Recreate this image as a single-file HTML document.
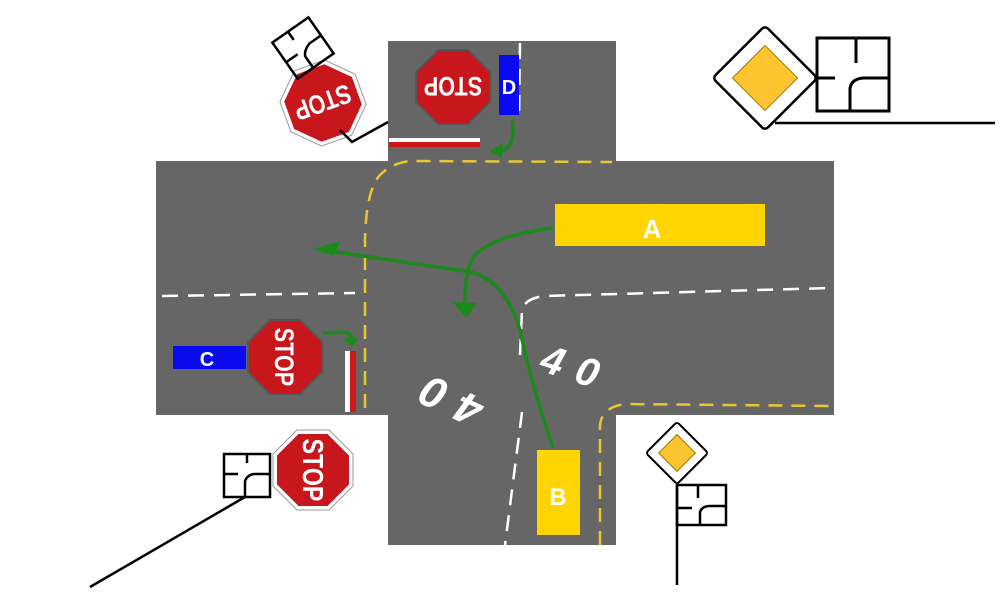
<!DOCTYPE html>
<html><head><meta charset="utf-8"><style>html,body{margin:0;padding:0;background:#fff;width:1000px;height:592px;overflow:hidden}</style></head><body>
<svg width="1000" height="592" viewBox="0 0 1000 592" xmlns="http://www.w3.org/2000/svg" font-family="Liberation Sans, sans-serif">
<defs>
<g id="oct"><polygon points="-16,-40 16,-40 40,-16 40,16 16,40 -16,40 -40,16 -40,-16" fill="#fff" stroke="#999" stroke-width="1"/><polygon points="-14.5,-36 14.5,-36 36,-14.5 36,14.5 14.5,36 -14.5,36 -36,14.5 -36,-14.5" fill="#c8161d"/></g>
<g id="oct2"><polygon points="-15,-37 15,-37 37,-15 37,15 15,37 -15,37 -37,15 -37,-15" fill="#c8161d" stroke="#555" stroke-width="2"/></g>
</defs>
<!-- roads -->
<rect x="388" y="41" width="228" height="504" fill="#666"/>
<rect x="156" y="161" width="678" height="254" fill="#666"/>
<!-- yellow dashed -->
<g fill="none" stroke="#e8c832" stroke-width="2.5" stroke-dasharray="14,9">
<path d="M365,408 L365,240 Q366,190 380,175 Q392,163 410,161 L612,162"/>
<path d="M600,545 L600,425 Q602,407 625,404 L830,406"/>
</g>
<!-- white dashed -->
<g fill="none" stroke="#fff" stroke-width="2.5" stroke-dasharray="16,10">
<path d="M162,296 L355,293"/>
<path d="M520,355 L522,310 Q525,298 545,296 L830,288"/>
<path d="M520,43 L519,120"/>
<path d="M522,412 L505,545"/>
</g>
<!-- stop lines -->
<rect x="389" y="138" width="91" height="4" fill="#fff"/><rect x="389" y="142" width="91" height="5" fill="#d01818"/>
<rect x="345" y="351" width="5" height="61" fill="#fff"/><rect x="350" y="351" width="6" height="61" fill="#d01818"/>
<!-- vehicles -->
<rect x="555" y="204" width="210" height="42" fill="#ffd400"/>
<text x="652" y="238" font-size="26" font-weight="bold" fill="#fff" text-anchor="middle">A</text>
<rect x="537" y="450" width="43" height="85" fill="#ffd400"/>
<text x="558" y="505" font-size="24" font-weight="bold" fill="#fff" text-anchor="middle">B</text>
<rect x="173" y="346" width="73" height="23" fill="#0a0aee"/>
<text x="207" y="366" font-size="20" font-weight="bold" fill="#fff" text-anchor="middle">C</text>
<rect x="499" y="55" width="20" height="60" fill="#0a0aee"/>
<text x="509" y="94" font-size="20" font-weight="bold" fill="#fff" text-anchor="middle">D</text>
<!-- numbers -->
<text transform="translate(445,398) rotate(205)" font-size="44" font-weight="bold" font-style="italic" fill="#fff" text-anchor="middle" letter-spacing="14" dy="15">40</text>
<text transform="translate(577,368) rotate(18)" font-size="40" font-weight="bold" font-style="italic" fill="#fff" text-anchor="middle" letter-spacing="14" dy="14">40</text>
<!-- green paths -->
<g fill="none" stroke="#1a8a1a" stroke-width="3.5">
<path d="M553,448 Q530,380 520,330 Q505,280 470,272 L330,251"/>
<path d="M553,228 Q495,235 475,255 Q464,270 465,305"/>
<path d="M512,120 Q516,140 505,150 L498,152"/>
<path d="M323,333 L345,332 Q352,334 352,340"/>
</g>
<g fill="#1a8a1a">
<polygon points="313,249 340,241 334,256"/>
<polygon points="453,302 477,303 466,318"/>
<polygon points="489,151 503,143 502,158"/>
<polygon points="344,338 358,338 352,347"/>
</g>
<!-- stop signs -->
<g transform="translate(323,103) rotate(160)"><use href="#oct"/><text font-size="27" font-weight="bold" fill="#fff" text-anchor="middle" dy="10" transform="scale(0.8,1)">STOP</text></g>
<g transform="translate(453,87) rotate(180)"><use href="#oct2"/><text font-size="27" font-weight="bold" fill="#fff" text-anchor="middle" dy="10" transform="scale(0.8,1)">STOP</text></g>
<g transform="translate(285,357) rotate(90)"><use href="#oct2"/><text font-size="27" font-weight="bold" fill="#fff" text-anchor="middle" dy="10" transform="scale(0.8,1)">STOP</text></g>
<g transform="translate(313,470) rotate(90)"><use href="#oct"/><text font-size="29" font-weight="bold" fill="#fff" text-anchor="middle" dy="10" transform="scale(0.8,1)">STOP</text></g>
<!-- black lines / boxes -->
<g fill="none" stroke="#000" stroke-width="2.5">
<polyline points="340,130 352,142 388,122"/>
<g transform="translate(303,48) rotate(-35)"><rect x="-22" y="-22" width="44" height="44"/><path d="M-3,-22 V-12 M-22,2 H-8 M-3,22 V8 Q0,2 8,0 H22"/></g>
<rect x="224" y="454" width="46" height="43"/><path d="M247,454 V463 M224,474 H238 M245,497 V481 Q248,474 255,474 H270"/>
<line x1="245" y1="497" x2="90" y2="587"/>
<rect x="817" y="38" width="72" height="73" stroke-width="3"/><path d="M856,38 V63 M817,78 H835 M850,111 V88 Q852,78 865,78 H889" stroke-width="3"/>
<line x1="775" y1="123" x2="995" y2="123"/>
<rect x="677" y="485" width="49" height="40"/><path d="M698,485 V498 M677,508 H692 M700,525 V512 Q702,506 710,506 H726"/>
<line x1="677" y1="485" x2="677" y2="585"/>
</g>
<!-- priority signs -->
<g transform="translate(765,78) rotate(45)"><rect x="-37" y="-37" width="74" height="74" rx="4" fill="#fff" stroke="#000" stroke-width="2.5"/><rect x="-23" y="-23" width="46" height="46" fill="#fcc530" stroke="#a07800" stroke-width="1"/></g>
<g transform="translate(677,453) rotate(45)"><rect x="-22" y="-22" width="44" height="44" rx="3" fill="#fff" stroke="#000" stroke-width="2"/><rect x="-13" y="-13" width="26" height="26" fill="#fcc530" stroke="#a07800" stroke-width="1"/></g>
</svg>
</body></html>
